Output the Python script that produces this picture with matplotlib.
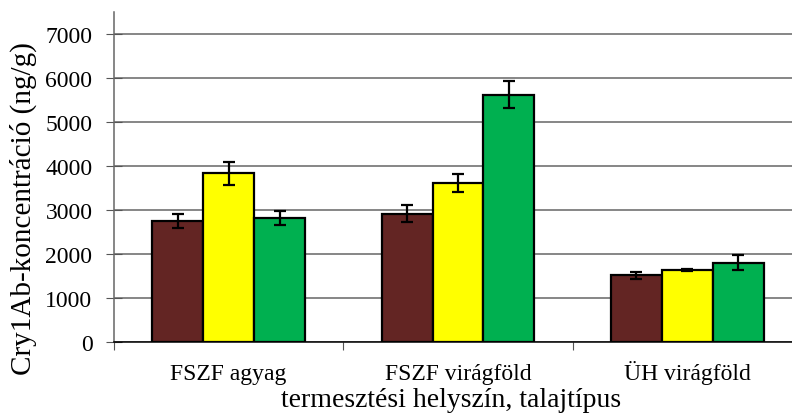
import numpy as np
import matplotlib
matplotlib.use('Agg')
import matplotlib.pyplot as plt
from matplotlib.transforms import blended_transform_factory

plt.rcParams['font.family'] = ['Liberation Serif', 'DejaVu Serif']

# data: Cry1Ab concentration per site / soil type, three series each
categories = ['FSZF agyag', 'FSZF virágföld', 'ÜH virágföld']
series_a = [2750, 2915, 1520]
series_b = [3835, 3620, 1643]
series_c = [2815, 5625, 1805]
err_a = [160, 190, 80]
err_b = [260, 205, 25]
err_c = [160, 305, 165]

colors = ['#632523', '#FFFF00', '#00B050']


def main():
    fig = plt.figure(figsize=(7.92, 4.14), dpi=100)
    ax = fig.add_axes([114 / 792, 71 / 414, 688 / 792, 330 / 414])

    x = np.arange(len(categories)) + 0.5
    w = 0.222
    for i, (vals, errs) in enumerate(zip([series_a, series_b, series_c], [err_a, err_b, err_c])):
        ax.bar(x + (i - 1) * w, vals, w, color=colors[i], edgecolor='black', linewidth=1.6,
               yerr=errs, capsize=4, error_kw={'elinewidth': 1.6, 'capthick': 1.6, 'ecolor': 'black'},
               zorder=3)

    ax.set_xlim(0, 3)
    ax.set_ylim(0, 7500)
    ax.set_yticks(range(0, 7001, 1000))
    ax.set_xticks([0, 1, 2, 3])
    ax.set_xticklabels([])
    ax.tick_params(axis='x', which='major', length=6, direction='out', color='#555555')
    ax.tick_params(axis='y', length=11, direction='inout', labelsize=17, color='#555555', pad=10)

    # category names, aligned on a common baseline
    trans = blended_transform_factory(ax.transData, ax.transAxes)
    for xi, name in zip(x, categories):
        ax.text(xi, -0.112, name, transform=trans, ha='center', va='baseline', fontsize=17)

    ax.grid(axis='y', color='#666666', linewidth=1.1, zorder=0)
    for s in ['top', 'right']:
        ax.spines[s].set_visible(False)
    ax.spines['left'].set_color('#666666')
    ax.spines['left'].set_linewidth(1.1)
    ax.spines['bottom'].set_color('black')
    ax.spines['bottom'].set_linewidth(1.1)

    ax.set_ylabel('Cry1Ab-koncentráció (ng/g)', fontsize=21, va='center')
    ax.yaxis.set_label_coords((23 - 114) / 688, (343 - 209) / 330)
    ax.text((451 - 114) / 688, (343 - 407) / 330, 'termesztési helyszín, talajtípus',
            transform=ax.transAxes, ha='center', va='baseline', fontsize=20)

    fig.savefig('out.png', dpi=100)
    plt.close(fig)


if __name__ == '__main__':
    main()
